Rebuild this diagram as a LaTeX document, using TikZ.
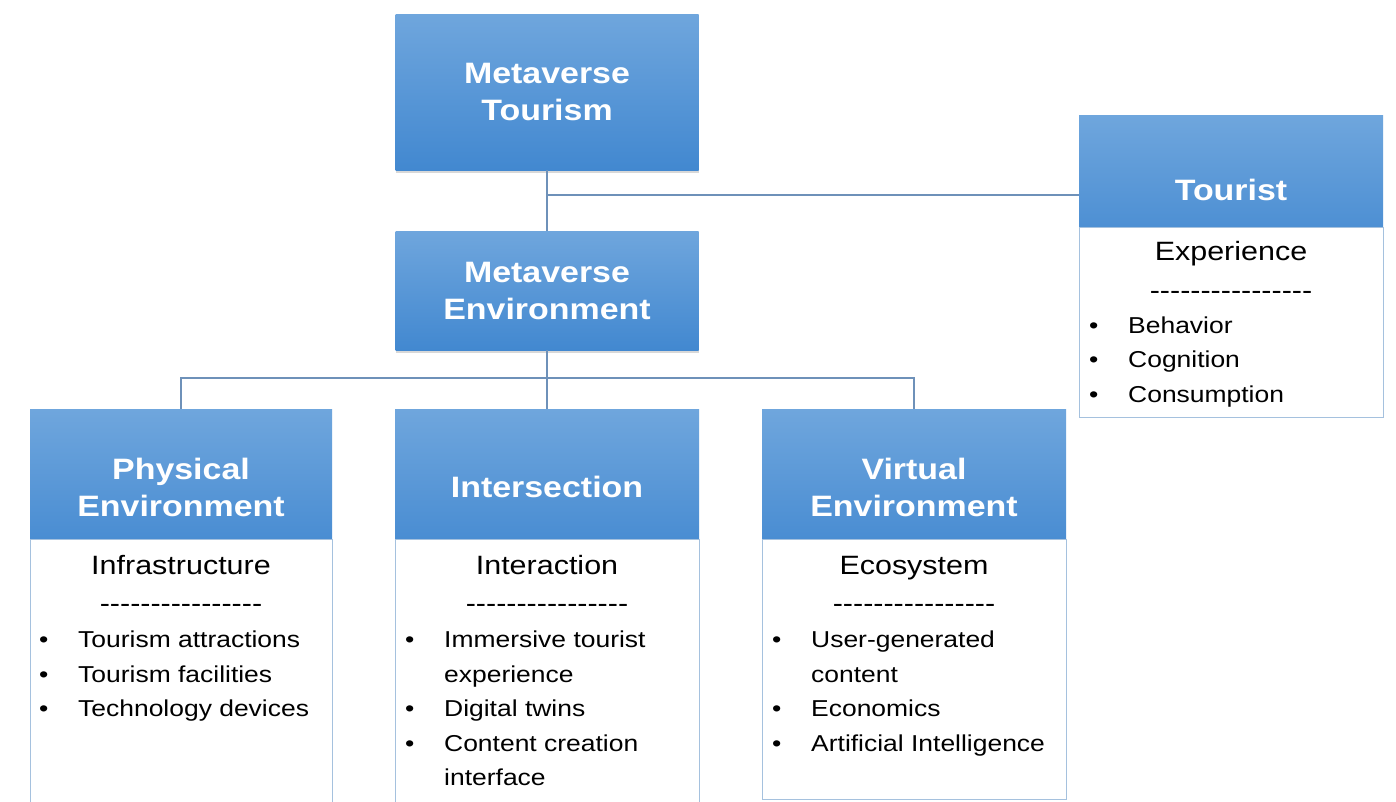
\documentclass[tikz,border=0pt]{standalone}
\usepackage{fontspec}
\setmainfont{Liberation Sans}[FakeStretch=1.15]
\usetikzlibrary{shadows}
\definecolor{htop}{RGB}{111,166,221}
\definecolor{hbot}{RGB}{66,136,208}
\definecolor{connc}{RGB}{110,145,185}
\definecolor{bord}{RGB}{165,193,222}
\tikzset{
  hdr/.style={rectangle, top color=htop, bottom color=hbot, draw=none,
    drop shadow={shadow xshift=0pt, shadow yshift=-3pt, opacity=0.3},
    text=white, font=\fontsize{29.5}{37}\selectfont\bfseries, align=center, inner sep=0pt},
  bodybox/.style={rectangle, fill=white, draw=bord, line width=1pt, inner sep=0pt},
  connline/.style={draw=connc, line width=1.6pt},
  head/.style={font=\fontsize{26.5}{30}\selectfont, anchor=base, inner sep=0pt},
  lst/.style={font=\fontsize{23}{34.5}\selectfont, anchor=base west, inner sep=0pt, align=left},
}
\newcommand{\bul}{\textbullet}
\newcommand{\dashrow}{-{}-{}-{}-{}-{}-{}-{}-{}-{}-{}-{}-{}-{}-{}-{}-}
\begin{document}
\begin{tikzpicture}[x=1pt,y=-1pt]
\useasboundingbox[fill=white] (0,0) rectangle (1396,801);
% headers
\node[hdr, minimum width=303pt, minimum height=156pt] (mt) at (547,92) {Metaverse\\Tourism};
\node[hdr, minimum width=303pt, minimum height=119pt] (me) at (547,290.5) {Metaverse\\Environment};
\node[hdr, minimum width=304pt, minimum height=150pt] (th) at (1231,190) {Tourist};
\node[hdr, minimum width=302pt, minimum height=156pt] (ph) at (181,487) {Physical\\Environment};
\node[hdr, minimum width=304pt, minimum height=156pt] (ih) at (547,487) {Intersection};
\node[hdr, minimum width=304pt, minimum height=156pt] (vh) at (914,487) {Virtual\\Environment};
% junctions
\coordinate (j1) at (547,195);
\coordinate (j2) at (547,378);
% connectors
\draw[connline] (mt.south) -- (me.north);
\draw[connline] (j1) -- (j1 -| th.west);
\draw[connline] (me.south) -- (j2);
\draw[connline] (ph.north) |- (j2) -| (vh.north);
\draw[connline] (j2) -- (ih.north);
% bodies
\node[bodybox, minimum width=304pt, minimum height=190pt] (tb) at (1231,322) {};
\node[bodybox, minimum width=302pt, minimum height=270pt] (pb) at (181,674) {};
\node[bodybox, minimum width=304pt, minimum height=270pt] (ib) at (547,674) {};
\node[bodybox, minimum width=304pt, minimum height=260pt] (vb) at (914,669) {};
% Tourist texts
\node[head] (tt) at (1231,260) {Experience};
\node[head] (td) at (1231,299) {\dashrow};
\node[lst] (tl) at (1089,333) {\begin{tabular}[t]{@{}p{39pt}@{}l@{}}
\bul & Behavior\\ \bul & Cognition\\ \bul & Consumption\end{tabular}};
% Physical
\node[head] (pt) at (181,574) {Infrastructure};
\node[head] (pd) at (181,612) {\dashrow};
\node[lst] (pl) at (39,647.5) {\begin{tabular}[t]{@{}p{39pt}@{}l@{}}
\bul & Tourism attractions\\ \bul & Tourism facilities\\ \bul & Technology devices\end{tabular}};
% Intersection
\node[head] (it) at (547,574) {Interaction};
\node[head] (id) at (547,612) {\dashrow};
\node[lst] (il) at (405,647.5) {\begin{tabular}[t]{@{}p{39pt}@{}l@{}}
\bul & Immersive tourist\\ & experience\\ \bul & Digital twins\\ \bul & Content creation\\ & interface\end{tabular}};
% Virtual
\node[head] (vt) at (914,574) {Ecosystem};
\node[head] (vd) at (914,612) {\dashrow};
\node[lst] (vl) at (772,647.5) {\begin{tabular}[t]{@{}p{39pt}@{}l@{}}
\bul & User-generated\\ & content\\ \bul & Economics\\ \bul & Artificial Intelligence\end{tabular}};
\end{tikzpicture}
\end{document}
